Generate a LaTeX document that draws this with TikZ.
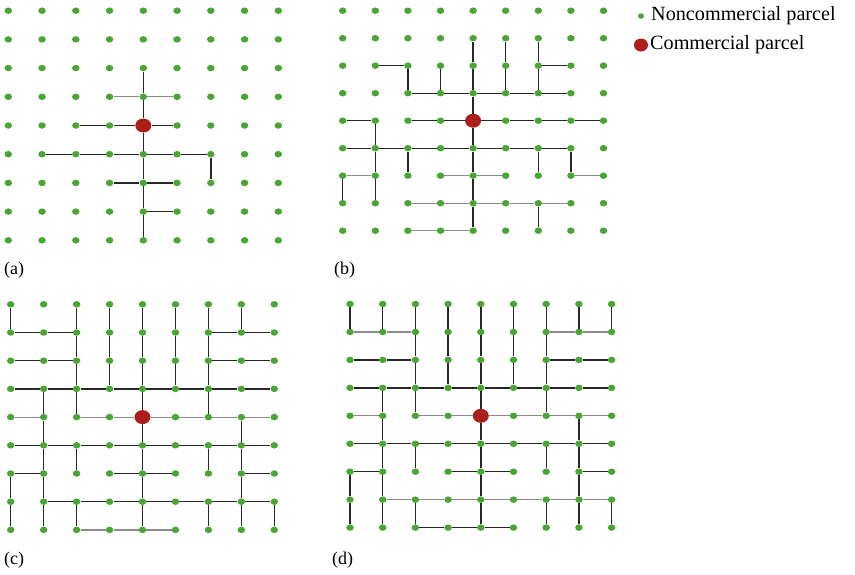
\documentclass[tikz,border=0pt]{standalone}
\usepackage{fontspec}
\setmainfont{Liberation Serif}
\usetikzlibrary{shapes.geometric}
\definecolor{dotgreen}{RGB}{74,166,52}
\definecolor{dotred}{RGB}{172,30,26}
\definecolor{edgeblack}{RGB}{40,40,40}
\definecolor{edgegray}{RGB}{140,140,140}
\tikzset{
  parcel/.style={ellipse,fill=dotgreen,draw=none,minimum width=7.5pt,minimum height=6.5pt,inner sep=0pt},
  comm/.style={ellipse,fill=dotred,draw=none,minimum width=16pt,minimum height=14pt,inner sep=0pt},
  blk/.style={draw=edgeblack,line width=1.4pt},
  gry/.style={draw=edgegray,line width=1.2pt},
  lbl/.style={inner sep=0pt,anchor=west,font=\fontsize{18}{21}\selectfont},
  leg/.style={inner sep=0pt,anchor=west,font=\fontsize{20.2}{23}\selectfont}
}
\newcommand{\mkpanel}[5]{%
  \begin{scope}[shift={(#2,#3)},x=#4pt,y=-#5pt]
    \foreach \i in {0,...,8}{\foreach \j in {0,...,8}{%
      \ifnum\i\j=44
        \node[comm] (#1\i\j) at (\i,\j) {};
      \else
        \node[parcel] (#1\i\j) at (\i,\j) {};
      \fi}}
  \end{scope}}
\begin{document}
\begin{tikzpicture}[x=1pt,y=-1pt]
\useasboundingbox (0,0) rectangle (855,574);
\fill[white] (0,0) rectangle (855,574);
\mkpanel{A}{8.3}{10.7}{33.75}{28.7}
\mkpanel{B}{342.7}{10.7}{32.6}{27.5}
\mkpanel{C}{10.7}{304.3}{32.95}{28.2}
\mkpanel{D}{350}{304}{32.7}{27.95}
% panel (a)
\draw[blk] (A42)--(A43)--(A44)--(A45)--(A46)--(A47)--(A48);
\draw[blk] (A24)--(A34)--(A44)--(A54);
\draw[blk] (A15)--(A25)--(A35)--(A45)--(A55)--(A65)--(A66);
\draw[blk] (A36)--(A46)--(A56);
\draw[blk] (A47)--(A57);
\draw[gry] (A33)--(A43)--(A53);
% panel (b)
\draw[blk] (B41)--(B42)--(B43)--(B44)--(B45)--(B46)--(B47)--(B48);
\draw[blk] (B51)--(B52)--(B53);
\draw[blk] (B61)--(B62)--(B63);
\draw[blk] (B12)--(B22)--(B23);
\draw[blk] (B32)--(B33);
\draw[blk] (B62)--(B72);
\draw[blk] (B23)--(B33)--(B43)--(B53)--(B63)--(B73);
\draw[blk] (B04)--(B14)--(B15)--(B16)--(B17);
\draw[blk] (B24)--(B34)--(B44)--(B54)--(B64)--(B74)--(B84);
\draw[blk] (B05)--(B15)--(B25)--(B35)--(B45)--(B55)--(B65)--(B75);
\draw[blk] (B25)--(B26);
\draw[blk] (B65)--(B66);
\draw[blk] (B75)--(B76);
\draw[blk] (B06)--(B07);
\draw[blk] (B67)--(B68);
\draw[gry] (B06)--(B16);
\draw[gry] (B36)--(B46)--(B56);
\draw[gry] (B76)--(B86);
\draw[gry] (B27)--(B37)--(B47)--(B57)--(B67)--(B77);
\draw[gry] (B28)--(B38)--(B48);
% panel (c)
\draw[blk] (C00)--(C01);
\draw[blk] (C20)--(C21)--(C22)--(C23)--(C24);
\draw[blk] (C30)--(C31)--(C32)--(C33);
\draw[blk] (C40)--(C41)--(C42)--(C43)--(C44)--(C45)--(C46)--(C47)--(C48);
\draw[blk] (C50)--(C51)--(C52)--(C53);
\draw[blk] (C60)--(C61)--(C62)--(C63)--(C64);
\draw[blk] (C70)--(C71);
\draw[blk] (C01)--(C11)--(C21);
\draw[blk] (C61)--(C71)--(C81);
\draw[blk] (C02)--(C12)--(C22);
\draw[blk] (C62)--(C72)--(C82);
\draw[blk] (C03)--(C13)--(C23)--(C33)--(C43)--(C53)--(C63)--(C73)--(C83);
\draw[blk] (C13)--(C14)--(C15)--(C16)--(C17)--(C18);
\draw[blk] (C74)--(C75)--(C76)--(C77)--(C78);
\draw[blk] (C05)--(C15)--(C25)--(C35)--(C45)--(C55)--(C65)--(C75)--(C85);
\draw[blk] (C25)--(C26);
\draw[blk] (C65)--(C66);
\draw[blk] (C06)--(C16);
\draw[blk] (C06)--(C07)--(C08);
\draw[blk] (C36)--(C46)--(C56);
\draw[blk] (C76)--(C86);
\draw[blk] (C17)--(C27)--(C37)--(C47)--(C57)--(C67)--(C77)--(C87);
\draw[blk] (C27)--(C28);
\draw[blk] (C67)--(C68);
\draw[blk] (C87)--(C88);
\draw[gry] (C04)--(C14);
\draw[gry] (C24)--(C34)--(C44)--(C54)--(C64)--(C74)--(C84);
\draw[gry] (C28)--(C38)--(C48)--(C58);
% panel (d)
\draw[blk] (D00)--(D01);
\draw[blk] (D10)--(D11);
\draw[blk] (D20)--(D21)--(D22)--(D23)--(D24);
\draw[blk] (D30)--(D31)--(D32)--(D33);
\draw[blk] (D40)--(D41)--(D42)--(D43)--(D44)--(D45)--(D46)--(D47)--(D48);
\draw[blk] (D50)--(D51)--(D52)--(D53);
\draw[blk] (D60)--(D61)--(D62)--(D63)--(D64);
\draw[blk] (D70)--(D71);
\draw[blk] (D80)--(D81);
\draw[blk] (D02)--(D12)--(D22);
\draw[blk] (D62)--(D72)--(D82);
\draw[blk] (D03)--(D13)--(D23)--(D33)--(D43)--(D53)--(D63)--(D73)--(D83);
\draw[blk] (D13)--(D14)--(D15)--(D16)--(D17)--(D18);
\draw[blk] (D74)--(D75)--(D76)--(D77)--(D78);
\draw[blk] (D05)--(D15)--(D25)--(D35)--(D45)--(D55)--(D65)--(D75)--(D85);
\draw[blk] (D25)--(D26);
\draw[blk] (D65)--(D66);
\draw[blk] (D06)--(D16);
\draw[blk] (D06)--(D07)--(D08);
\draw[blk] (D36)--(D46)--(D56);
\draw[blk] (D76)--(D86);
\draw[blk] (D27)--(D28);
\draw[blk] (D67)--(D68);
\draw[blk] (D87)--(D88);
\draw[blk] (D28)--(D38)--(D48)--(D58);
\draw[gry] (D01)--(D11)--(D21);
\draw[gry] (D61)--(D71)--(D81);
\draw[gry] (D04)--(D14);
\draw[gry] (D24)--(D34)--(D44)--(D54)--(D64)--(D74)--(D84);
\draw[gry] (D17)--(D27)--(D37)--(D47)--(D57)--(D67)--(D77)--(D87);
% labels
\node[lbl] (la) at (4,270) {(a)};
\node[lbl] (lb) at (334,270) {(b)};
\node[lbl] (lc) at (4,560) {(c)};
\node[lbl] (ld) at (332,560) {(d)};
% legend
\node[parcel,minimum width=6pt,minimum height=5.5pt] (legn) at (641,16) {};
\node[leg] (legnt) at (651,16) {Noncommercial parcel};
\node[comm,minimum width=14pt,minimum height=13pt] (legc) at (641,45) {};
\node[leg] (legct) at (650,45) {Commercial parcel};
\end{tikzpicture}
\end{document}
